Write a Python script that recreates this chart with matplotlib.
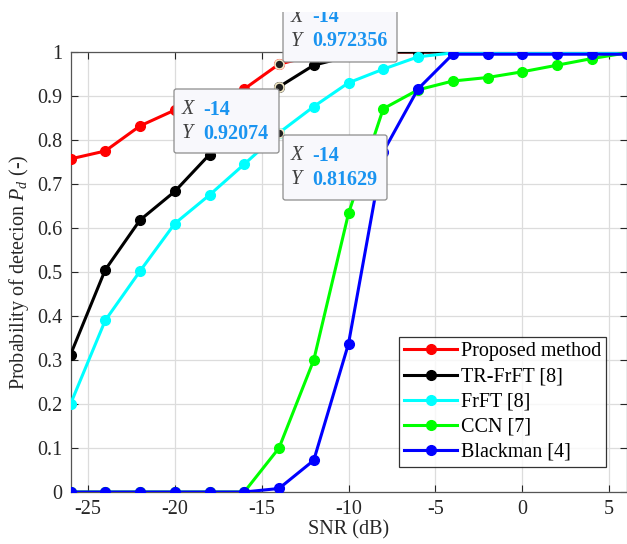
import numpy as np
import matplotlib
matplotlib.use("Agg")
import matplotlib.pyplot as plt
from matplotlib.patches import FancyBboxPatch, Rectangle

plt.rcParams["font.family"] = ["Liberation Serif", "DejaVu Serif"]
plt.rcParams["mathtext.fontset"] = "custom"
plt.rcParams["mathtext.rm"] = "Liberation Serif"
plt.rcParams["mathtext.it"] = "Liberation Serif:italic"
plt.rcParams["axes.unicode_minus"] = False

snr = [-26, -24, -22, -20, -18, -16, -14, -12, -10, -8, -6, -4, -2, 0, 2, 4, 6]

proposed = [0.757, 0.775, 0.832, 0.868, 0.893, 0.916, 0.972356, 0.992, 1.0,
            1.0, 1.0, 1.0, 1.0, 1.0, 1.0, 1.0, 1.0]
tr_frft = [0.312, 0.505, 0.618, 0.683, 0.767, 0.845, 0.92074, 0.970, 0.990,
           1.0, 1.0, 1.0, 1.0, 1.0, 1.0, 1.0, 1.0]
frft = [0.200, 0.390, 0.502, 0.610, 0.675, 0.745, 0.81629, 0.876, 0.930,
        0.961, 0.989, 0.998, 0.998, 0.998, 0.998, 0.998, 0.998]
ccn = [0.0, 0.0, 0.0, 0.0, 0.0, 0.0, 0.100, 0.300, 0.633, 0.871, 0.914,
       0.934, 0.942, 0.955, 0.970, 0.985, 0.998]
blackman = [0.0, 0.0, 0.0, 0.0, 0.0, 0.0, 0.008, 0.072, 0.337, 0.773, 0.916,
            0.995, 0.995, 0.995, 0.995, 0.995, 0.995]

series = [
    ("Proposed method", proposed, "#ff0000"),
    ("TR-FrFT [8]", tr_frft, "#000000"),
    ("FrFT [8]", frft, "#00ffff"),
    ("CCN [7]", ccn, "#00ff00"),
    ("Blackman [4]", blackman, "#0000ff"),
]

# data tips: (series values, value text, box in pixels left, top, right, bottom)
tip_x = -14
tips = [
    (proposed, "0.972356", (283, -4, 397, 62)),
    (tr_frft, "0.92074", (174, 89, 279, 153)),
    (frft, "0.81629", (283, 135, 387, 200)),
]

W, H = 627, 544
fig = plt.figure(figsize=(W / 100, H / 100), dpi=100)
ax = fig.add_axes([70.5 / W, 1 - 492 / H, 556 / W, 440 / H])

fs = 14.5
dark = "#262626"

for name, vals, col in series:
    ax.plot(snr, vals, "-o", color=col, lw=2.2, ms=7, label=name, zorder=3)

# data tip markers
i = snr.index(tip_x)
for vals, _, _ in tips:
    ax.plot(tip_x, vals[i], "o", ms=6.5, mfc="#202020", mec="#f3e9c6",
            mew=1.2, zorder=5)

ax.set_xlim(-26, 6)
ax.set_ylim(0, 1)
ax.set_xticks([-25, -20, -15, -10, -5, 0, 5])
ax.set_yticks(np.arange(0, 1.01, 0.1))
ax.set_yticklabels(["0", "0.1", "0.2", "0.3", "0.4", "0.5", "0.6", "0.7",
                    "0.8", "0.9", "1"])
ax.tick_params(direction="in", top=True, right=True, length=5, width=0.8,
               labelsize=fs, colors=dark, pad=6)
ax.grid(True, color="#dcdcdc", lw=0.9)
ax.set_axisbelow(True)
for s in ax.spines.values():
    s.set_color("#555555")
    s.set_linewidth(0.9)

ax.set_xlabel("SNR (dB)", fontsize=fs, color=dark, labelpad=1)
ax.set_ylabel("Probability of detecion $P_d$ (-)", fontsize=fs, color=dark,
              labelpad=4)

leg = ax.legend(loc="lower right", bbox_to_anchor=(606 / W, 1 - 467 / H),
                bbox_transform=fig.transFigure, fontsize=fs, frameon=True,
                fancybox=False, borderpad=0.25, labelspacing=0.3,
                handlelength=2.6, handletextpad=0.2, borderaxespad=0)
leg.get_frame().set_edgecolor("#000000")
leg.get_frame().set_linewidth(0.9)

tip_blue = "#1a94f0"
for vals, label, (l, t, r, b) in tips:
    box = FancyBboxPatch((l / W, 1 - b / H), (r - l) / W, (b - t) / H,
                         boxstyle="round,pad=0,rounding_size=0.004",
                         transform=fig.transFigure, fc="#f8f8fc",
                         ec="#8c8c8c", lw=0.9, zorder=10)
    fig.patches.append(box)
    for y, key, val in [(t + 21, "X", "-14"), (t + 45, "Y", label)]:
        fig.text((l + 8) / W, 1 - y / H, key, fontsize=fs, style="italic",
                 color="#404040", va="center", ha="left", zorder=11)
        fig.text((l + 29) / W, 1 - y / H, val, fontsize=fs, weight="bold",
                 color=tip_blue, va="center", ha="left", zorder=11)

# blank strip along the top edge of the figure
fig.patches.append(Rectangle((0, 1 - 12 / H), 1, 12 / H, transform=fig.transFigure,
                             fc="white", ec="none", zorder=20))

fig.savefig("out.png", dpi=100)
